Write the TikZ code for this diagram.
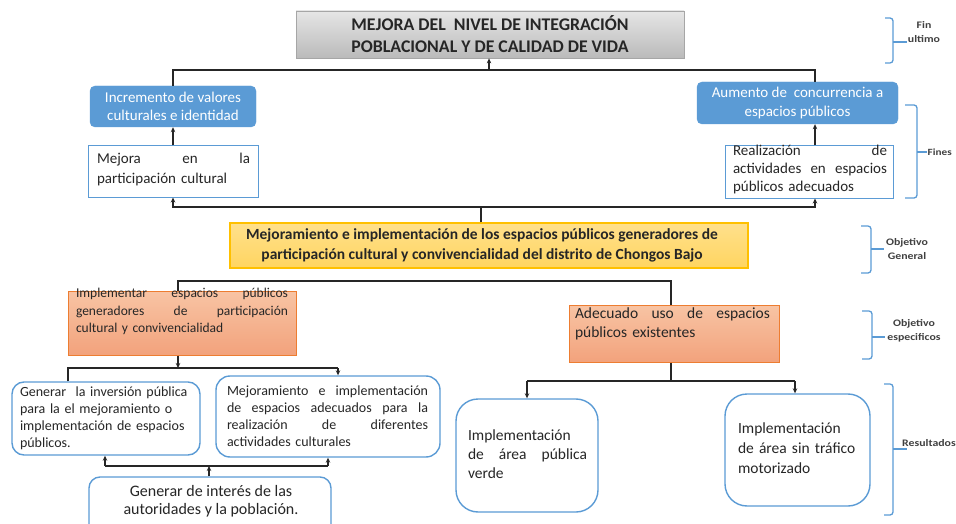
\documentclass[tikz,border=0pt]{standalone}
\usepackage{fontspec}
\setmainfont{Carlito}
\newfontfamily\lblfont{Carlito}[FakeStretch=1.18]
\usetikzlibrary{arrows.meta}
\setlength{\parindent}{0pt}
\definecolor{cblue}{HTML}{5B9BD5}
\definecolor{cyelT}{HTML}{FFE08C}
\definecolor{cyelB}{HTML}{FFD560}
\definecolor{cyelD}{HTML}{FFC000}
\definecolor{corT}{HTML}{F8C4A4}
\definecolor{corB}{HTML}{F2A27C}
\definecolor{corD}{HTML}{ED7D31}
\definecolor{ink}{HTML}{262626}
\newcommand{\fs}[2]{\fontsize{#1}{#2}\selectfont}
\newcommand{\jl}[2]{\leavevmode\hbox to #1pt{\spaceskip=.25em plus 1fil\relax\strut #2}\\}
\newcommand{\rbr}[6]{\draw[brc] (#1,#3) -- (#2,#3) -- (#2,#4) -- (#1,#4); \draw[brc] (#2,#5) -- (#6,#5);}
\begin{document}
\begin{tikzpicture}[x=1pt,y=-1pt,
  conn/.style={draw=black!85, line width=1.4pt},
  arr/.style={conn, -{Stealth[length=5pt,width=4.5pt]}},
  graybox/.style={draw=black!35, line width=0.8pt, top color=black!10, bottom color=black!27, text=ink, align=center},
  bluebox/.style={fill=cblue, draw=cblue, rounded corners=5pt, text=white, align=center},
  thinbox/.style={draw=cblue, line width=1pt, fill=white},
  yelbox/.style={draw=cyelD, line width=1.4pt, top color=cyelT, bottom color=cyelB},
  orbox/.style={draw=corD, line width=1pt, top color=corT, bottom color=corB},
  rbox/.style={draw=cblue, line width=1.4pt, fill=white},
  txt/.style={inner sep=0pt, outer sep=0pt, text=ink, anchor=north west},
  brc/.style={draw=cblue, line width=1.3pt, rounded corners=3pt},
  lbl/.style={inner sep=0pt, font=\lblfont\fs{10}{14}\bfseries, text=black!75, align=center},
]
\useasboundingbox (0,0) rectangle (956,524);

% ---------- boxes ----------
\node[graybox, minimum width=388, minimum height=47, font=\fs{17.8}{22}\bfseries] (top) at (490,34.5)
  {MEJORA DEL\ \ NIVEL DE INTEGRACIÓN\\POBLACIONAL Y DE CALIDAD DE VIDA};

\node[bluebox, minimum width=166, minimum height=41, font=\fs{15}{18.5}] (inc) at (173,106.5)
  {Incremento de valores\\culturales e identidad};
\node[bluebox, minimum width=201, minimum height=42, font=\fs{15}{18.5}] (aum) at (797.5,103)
  {Aumento de\ \ concurrencia a\\espacios públicos};

\node[thinbox, minimum width=170, minimum height=51] (mej) at (173,171.5) {};
\node[txt, text width=153, font=\fs{15}{20}] (mejt) at (97,149.5)
  {\jl{153}{Mejora en la}\strut participación cultural};

\node[thinbox, minimum width=168, minimum height=52] (rea) at (809,172) {};
\node[txt, text width=154, font=\fs{15}{18}] (reat) at (733,143)
  {\jl{154}{Realización de}\jl{154}{actividades en espacios}\strut públicos adecuados};

\node[yelbox, minimum width=518, minimum height=45] (gen) at (489,245.5) {};
\node[inner sep=0pt, text=ink, align=center, font=\fs{15.5}{20}\bfseries] (gent) at (482,245.5)
  {Mejoramiento e implementación de los espacios públicos generadores de\\participación cultural y convivencialidad del distrito de Chongos Bajo};

\node[orbox, minimum width=228, minimum height=64] (impl) at (182,323) {};
\node[txt, text width=212, font=\fs{13.5}{17.5}] (implt) at (76,285.5)
  {\jl{212}{Implementar espacios públicos}\jl{212}{generadores de participación}\strut cultural y convivencialidad};

\node[orbox, minimum width=210, minimum height=57] (adec) at (674,333.5) {};
\node[txt, text width=195, font=\fs{15.5}{19}] (adect) at (575,305.2)
  {\jl{195}{Adecuado uso de espacios}\strut públicos existentes};

\node[rbox, rounded corners=12pt, minimum width=188, minimum height=73] (ginv) at (106,418.5) {};
\node[txt, text width=180, align=left, font=\fs{14}{17}] (ginvt) at (20,384.6)
  {\strut Generar\ \ la inversión pública\\para la el mejoramiento o\\implementación de espacios\\públicos.};

\node[rbox, rounded corners=14pt, minimum width=224, minimum height=81] (mimp) at (328,416.5) {};
\node[txt, text width=201, font=\fs{14}{17}] (mimpt) at (227,383.6)
  {\jl{201}{Mejoramiento e implementación}\jl{201}{de espacios adecuados para la}\jl{201}{realización de diferentes}\strut actividades culturales};

\node[rbox, rounded corners=11pt, minimum width=242, minimum height=58] (gint) at (210,506) {};
\node[inner sep=0pt, text=ink, align=center, font=\fs{16}{18}] (gintt) at (211,501)
  {Generar de interés de las\\autoridades y la población.};

\node[rbox, rounded corners=22pt, minimum width=142, minimum height=113] (iver) at (527,455.5) {};
\node[txt, text width=119, font=\fs{15.5}{19}] (ivert) at (468,427.6)
  {\strut Implementación\\\jl{119}{de área pública}\strut verde};

\node[rbox, rounded corners=22pt, minimum width=145, minimum height=112] (itra) at (797.5,450) {};
\node[txt, text width=132, align=left, font=\fs{15.5}{20}] (itrat) at (738,419.9)
  {\strut Implementación\\de área sin tráfico\\motorizado};

% ---------- connectors ----------
\coordinate (b1) at (489,70);
\coordinate (xR) at (815,0);
\draw[arr] (b1) -- (top.south -| b1);
\draw[conn] (inc.north) |- (b1) -| (aum.north -| xR);
\draw[arr] (mej.north) -- (inc.south);
\draw[arr] (rea.north -| xR) -- (aum.south -| xR);

\coordinate (b2) at (481,207);
\draw[conn] (gen.north -| b2) -- (b2);
\draw[arr] (b2) -| (mej.south);
\draw[arr] (b2) -| (rea.south -| xR);

\coordinate (b3L) at (178,281);
\coordinate (b3R) at (671,281);
\draw[conn] (impl.north -| b3L) -- (b3L) -- (b3R) -- (adec.north -| b3R);

\coordinate (b4) at (178,368);
\coordinate (b4L) at (68,368);
\coordinate (b4R) at (338,368);
\draw[arr] (impl.south -| b4) -- (b4);
\draw[conn] (ginv.north -| b4L) -- (b4L) -- (b4R);
\draw[arr] (b4R) -- (mimp.north -| b4R);

\coordinate (b5) at (209,466);
\coordinate (b5L) at (105,466);
\coordinate (b5R) at (328,466);
\draw[arr] (gint.north -| b5) -- (b5);
\draw[conn] (b5L) -- (b5R);
\draw[arr] (b5L) -- (ginv.south -| b5L);
\draw[arr] (b5R) -- (mimp.south -| b5R);

\coordinate (b6) at (671,381);
\coordinate (b6L) at (527,381);
\coordinate (b6R) at (795,381);
\draw[conn] (adec.south -| b6) -- (b6);
\draw[conn] (b6L) -- (b6R);
\draw[arr] (b6L) -- (iver.north -| b6L);
\draw[arr] (b6R) -- (itra.north -| b6R);

% ---------- braces and labels ----------
\rbr{885}{893}{18}{63}{42}{907}
\node[lbl] (lfin) at (924,32) {Fin\\ultimo};
\rbr{905}{917}{105}{198}{152}{927}
\node[lbl, anchor=west, font=\lblfont\fs{9.5}{13}\bfseries] (lfines) at (927.5,152) {Fines};
\rbr{861}{871}{226}{273}{249}{884}
\node[lbl] (lgen) at (907,249) {Objetivo\\General};
\rbr{862}{872}{311}{359}{337}{885}
\node[lbl] (lesp) at (914,331) {Objetivo\\especificos};
\rbr{884}{893}{384}{515}{449}{907}
\node[lbl, anchor=west] (lres) at (902,443) {Resultados};
\end{tikzpicture}
\end{document}
